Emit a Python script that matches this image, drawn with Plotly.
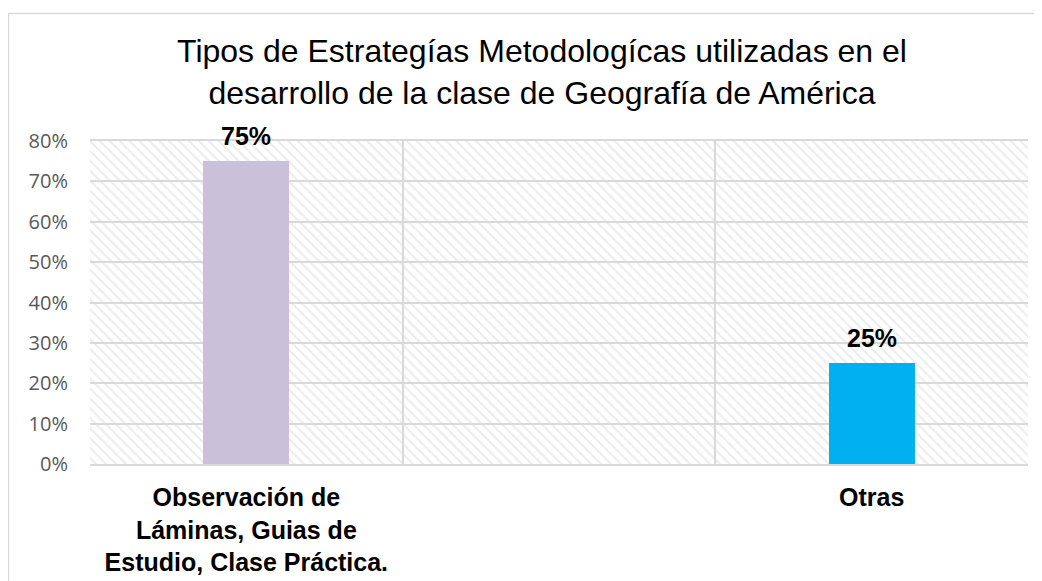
import plotly.graph_objects as go

categories = ["Observación de<br>Láminas, Guias de<br>Estudio, Clase Práctica.", " ", "Otras"]
values = [0.75, None, 0.25]
labels = ["75%", "", "25%"]
bar_colors = ["#CBC0DA", "#CBC0DA", "#00B0F0"]
y_ticks = [0, 0.1, 0.2, 0.3, 0.4, 0.5, 0.6, 0.7, 0.8]
y_tick_text = ["0%", "10%", "20%", "30%", "40%", "50%", "60%", "70%", "80%"]
y_max = 0.8

# page body has an 8px margin, so figure coords = screen coords - 8
W, H = 1034, 573
L, R, T, B = 82, 14, 133, 117
pw, ph = W - L - R, H - T - B

fig = go.Figure()

# hatched plot-area background (one full-width tile per category)
fig.add_trace(go.Bar(
    x=categories, y=[y_max] * len(categories), width=1,
    marker=dict(color="rgba(0,0,0,0)", line=dict(width=0),
                pattern=dict(shape="\\", fgcolor="#dadada", size=7, solidity=0.3)),
    hoverinfo="skip", showlegend=False,
))

fig.add_trace(go.Bar(
    x=categories, y=values, width=0.275,
    marker=dict(color=bar_colors, line=dict(width=0)),
    showlegend=False,
))

annotations = []
for c, v, t in zip(categories, values, labels):
    if v is None:
        continue
    annotations.append(dict(x=c, y=v, xref="x", yref="y", text="<b>%s</b>" % t,
                            showarrow=False, yanchor="middle", yshift=25,
                            font=dict(family="Liberation Sans", size=25, color="#000000")))

fig.update_layout(
    width=W, height=H,
    margin=dict(l=L, r=R, t=T, b=B, autoexpand=False),
    paper_bgcolor="white", plot_bgcolor="white",
    title=dict(text="Tipos de Estrategías Metodologícas utilizadas en el<br>desarrollo de la clase de Geografía de América",
               x=534 / W, xanchor="center",
               y=1 - 54 / H, yanchor="middle",
               font=dict(family="Liberation Sans", size=32, color="#000000")),
    xaxis=dict(type="category", tickson="boundaries", showgrid=True, automargin=False,
               gridcolor="#d9d9d9", gridwidth=2, showline=True,
               linecolor="#d9d9d9", linewidth=2, mirror=True, ticks="",
               tickfont=dict(family="Liberation Sans", size=25, color="#000000", weight="bold"),
               ticklabelstandoff=10),
    yaxis=dict(range=[0, y_max], tickvals=y_ticks, ticktext=y_tick_text, automargin=False,
               showgrid=True, gridcolor="#d9d9d9", gridwidth=2,
               zeroline=False, showline=False, ticks="",
               tickfont=dict(family="Open Sans", size=20, color="#595959"),
               ticklabelstandoff=21),
    bargap=0, barmode="overlay",
    annotations=annotations,
    shapes=[dict(type="rect", xref="paper", yref="paper",
                 x0=(0.5 - L) / pw, x1=(W + 20 - L) / pw,
                 y0=-(B + 20) / ph, y1=1 + (T - 5.5) / ph,
                 line=dict(color="#d9d9d9", width=1.5), fillcolor="rgba(0,0,0,0)",
                 layer="below")],
)

fig.write_html("out.html")
